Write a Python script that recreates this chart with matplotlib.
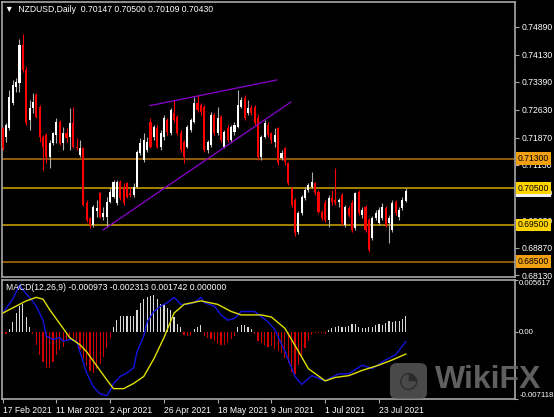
import numpy as np
import matplotlib
matplotlib.use("Agg")
import matplotlib.pyplot as plt
from matplotlib.patches import Rectangle, FancyBboxPatch

plt.rcParams['font.family'] = ['Liberation Sans', 'DejaVu Sans']

# NZDUSD daily, bar 0 = 17 Feb 2021
opens = [0.7214, 0.7189, 0.7214, 0.7282, 0.7325, 0.7336, 0.7440, 0.7371, 0.7235, 0.7268,
         0.7303, 0.7271, 0.7189, 0.7195, 0.7135, 0.7173, 0.7195, 0.7230, 0.7173, 0.7200,
         0.7189, 0.7227, 0.7162, 0.7140, 0.7159, 0.7010, 0.6969, 0.6950, 0.6988, 0.7037,
         0.6972, 0.6972, 0.7012, 0.7026, 0.7010, 0.7067, 0.7053, 0.7064, 0.7037, 0.7031,
         0.7053, 0.7146, 0.7127, 0.7154, 0.7230, 0.7189, 0.7214, 0.7162, 0.7189, 0.7235,
         0.7200, 0.7254, 0.7243, 0.7200, 0.7176, 0.7162, 0.7208, 0.7230, 0.7282, 0.7276,
         0.7271, 0.7154, 0.7167, 0.7249, 0.7200, 0.7243, 0.7162, 0.7214, 0.7181, 0.7203,
         0.7216, 0.7271, 0.7295, 0.7254, 0.7268, 0.7271, 0.7241, 0.7135, 0.7189, 0.7222,
         0.7200, 0.7176, 0.7214, 0.7132, 0.7159, 0.7118, 0.7050, 0.7018, 0.6931, 0.6982,
         0.7023, 0.7045, 0.7053, 0.7064, 0.7040, 0.6985, 0.7010, 0.6963, 0.7023, 0.7018,
         0.7012, 0.7031, 0.6950, 0.6996, 0.7010, 0.6942, 0.7040, 0.6977, 0.6999, 0.6963,
         0.6914, 0.6969, 0.6955, 0.6969, 0.6996, 0.6955, 0.6936, 0.7012, 0.6972, 0.6996,
         0.70147]
highs = [0.7216, 0.7227, 0.7317, 0.7344, 0.7350, 0.7456, 0.7469, 0.7380, 0.7290, 0.7309,
         0.7309, 0.7276, 0.7195, 0.7200, 0.7181, 0.7203, 0.7241, 0.7235, 0.7216, 0.7214,
         0.7268, 0.7271, 0.7186, 0.7181, 0.7162, 0.7018, 0.6972, 0.7004, 0.7018, 0.7040,
         0.6999, 0.7026, 0.7050, 0.7072, 0.7072, 0.7072, 0.7064, 0.7067, 0.7053, 0.7064,
         0.7154, 0.7186, 0.7200, 0.7189, 0.7241, 0.7222, 0.7222, 0.7208, 0.7249, 0.7241,
         0.7268, 0.7290, 0.7249, 0.7208, 0.7181, 0.7222, 0.7241, 0.7298, 0.7303, 0.7282,
         0.7276, 0.7181, 0.7257, 0.7254, 0.7271, 0.7249, 0.7208, 0.7222, 0.7222, 0.7230,
         0.7317, 0.7298, 0.7303, 0.7290, 0.7276, 0.7276, 0.7249, 0.7195, 0.7235, 0.7230,
         0.7203, 0.7214, 0.7216, 0.7154, 0.7162, 0.7121, 0.7053, 0.7023, 0.6988, 0.7031,
         0.7053, 0.7064, 0.7094, 0.7067, 0.7045, 0.6991, 0.7018, 0.7031, 0.7045, 0.7105,
         0.7023, 0.7037, 0.7004, 0.7001, 0.7018, 0.7040, 0.7045, 0.6999, 0.7004, 0.6969,
         0.6975, 0.6991, 0.6999, 0.7010, 0.7001, 0.6977, 0.7018, 0.7018, 0.6999, 0.7026,
         0.70500]
lows = [0.7154, 0.7176, 0.7208, 0.7276, 0.7311, 0.7311, 0.7365, 0.7222, 0.7208, 0.7254,
        0.7241, 0.7176, 0.7099, 0.7118, 0.7105, 0.7167, 0.7173, 0.7167, 0.7154, 0.7176,
        0.7154, 0.7159, 0.7154, 0.7135, 0.7001, 0.6958, 0.6942, 0.6944, 0.6972, 0.6969,
        0.6963, 0.6944, 0.7010, 0.7023, 0.7004, 0.7018, 0.7004, 0.7023, 0.7026, 0.7026,
        0.7050, 0.7140, 0.7121, 0.7148, 0.7159, 0.7181, 0.7159, 0.7154, 0.7181, 0.7195,
        0.7195, 0.7230, 0.7195, 0.7148, 0.7118, 0.7159, 0.7203, 0.7227, 0.7257, 0.7249,
        0.7148, 0.7146, 0.7162, 0.7195, 0.7195, 0.7176, 0.7159, 0.7176, 0.7176, 0.7195,
        0.7214, 0.7268, 0.7235, 0.7249, 0.7249, 0.7222, 0.7127, 0.7127, 0.7186, 0.7189,
        0.7173, 0.7162, 0.7113, 0.7127, 0.7113, 0.7059, 0.6999, 0.6920, 0.6925, 0.6977,
        0.7018, 0.7040, 0.7050, 0.7031, 0.6982, 0.6963, 0.6958, 0.6944, 0.7004, 0.7004,
        0.6999, 0.6950, 0.6944, 0.6972, 0.6931, 0.6936, 0.6977, 0.6969, 0.6931, 0.6877,
        0.6909, 0.6963, 0.6950, 0.6963, 0.6944, 0.6901, 0.6931, 0.6977, 0.6963, 0.6991,
        0.70109]
closes = [0.7159, 0.7222, 0.7298, 0.7331, 0.7339, 0.7439, 0.7371, 0.7227, 0.7268, 0.7284,
          0.7243, 0.7189, 0.7162, 0.7135, 0.7173, 0.7200, 0.7230, 0.7173, 0.7200, 0.7186,
          0.7227, 0.7162, 0.7159, 0.7159, 0.7004, 0.6963, 0.6950, 0.6999, 0.6996, 0.6972,
          0.6982, 0.7012, 0.7040, 0.7067, 0.7067, 0.7023, 0.7010, 0.7026, 0.7031, 0.7053,
          0.7148, 0.7173, 0.7181, 0.7176, 0.7162, 0.7216, 0.7162, 0.7200, 0.7241, 0.7203,
          0.7262, 0.7235, 0.7200, 0.7154, 0.7135, 0.7216, 0.7235, 0.7282, 0.7262, 0.7257,
          0.7154, 0.7176, 0.7249, 0.7200, 0.7241, 0.7181, 0.7203, 0.7181, 0.7216, 0.7222,
          0.7276, 0.7290, 0.7241, 0.7268, 0.7254, 0.7227, 0.7135, 0.7189, 0.7227, 0.7195,
          0.7181, 0.7195, 0.7118, 0.7146, 0.7121, 0.7064, 0.7004, 0.6928, 0.6982, 0.7026,
          0.7045, 0.7059, 0.7067, 0.7037, 0.6985, 0.6969, 0.6963, 0.7023, 0.7012, 0.7010,
          0.7018, 0.6955, 0.6999, 0.6977, 0.6936, 0.7037, 0.6982, 0.6991, 0.6936, 0.6882,
          0.6969, 0.6982, 0.6991, 0.6999, 0.6950, 0.6969, 0.7010, 0.6982, 0.6991, 0.7018,
          0.70430]

# MACD histogram, one value per bar
macd_hist = [-0.00019, -0.00019, 0.00038, 0.00113, 0.00207, 0.00282, 0.00301, 0.00169, 0.00056, -0.00011,
             -0.00131, -0.00244, -0.00319, -0.00376, -0.00376, -0.00319, -0.00244, -0.00188, -0.00150, -0.00094,
             -0.00056, -0.00056, -0.00113, -0.00188, -0.00282, -0.00357, -0.00413, -0.00432, -0.00394, -0.00338,
             -0.00263, -0.00169, -0.00056, 0.00056, 0.00131, 0.00177, 0.00177, 0.00177, 0.00177, 0.00177,
             0.00244, 0.00319, 0.00357, 0.00376, 0.00394, 0.00402, 0.00357, 0.00301, 0.00301, 0.00263,
             0.00244, 0.00169, 0.00094, 0.00056, -0.00026, -0.00038, -0.00026, 0.00038, 0.00056, 0.00075,
             -0.00038, -0.00056, -0.00075, -0.00094, -0.00113, -0.00131, -0.00131, -0.00113, -0.00075, -0.00038,
             0.00056, 0.00075, 0.00075, 0.00056, 0.00038, -0.00019, -0.00094, -0.00113, -0.00131, -0.00150,
             -0.00143, -0.00180, -0.00199, -0.00218, -0.00274, -0.00330, -0.00425, -0.00443, -0.00349, -0.00274,
             -0.00161, -0.00086, -0.00030, -0.00010, -0.00005, -0.00010, -0.00020, 0.00026, 0.00045, 0.00064,
             0.00071, 0.00064, 0.00056, 0.00071, 0.00094, 0.00094, 0.00064, 0.00045, 0.00045, 0.00056,
             0.00064, 0.00083, 0.00094, 0.00083, 0.00101, 0.00120, 0.00109, 0.00120, 0.00120, 0.00139,
             0.00174]

# MACD main (blue) and signal (yellow), read at selected bars
macd_idx = [0, 3, 5, 7, 8, 10, 12, 13, 15, 17, 18, 20, 22, 23, 25, 27, 29, 31, 32, 33,
            35, 37, 39, 40, 42, 43, 45, 47, 49, 51, 53, 55, 57, 59, 60, 63, 65, 67, 69, 71,
            75, 77, 79, 81, 84, 87, 89, 92, 96, 100, 103, 107, 110, 114, 117, 120]
macd_main = [0.00207, 0.00357, 0.00507, 0.00413, 0.00376, 0.00282, 0.00131, -0.00038, -0.00075, -0.00056,
             -0.00094, -0.00075, -0.00094, -0.00207, -0.00432, -0.00582, -0.00657, -0.00676, -0.00620, -0.00545,
             -0.00470, -0.00432, -0.00376, -0.00207, -0.00038, 0.00113, 0.00225, 0.00282, 0.00319, 0.00376,
             0.00301, 0.00301, 0.00319, 0.00376, 0.00319, 0.00282, 0.00188, 0.00131, 0.00150, 0.00225,
             0.00225, 0.00169, 0.00113, 0.00030, -0.00199, -0.00470, -0.00556, -0.00462, -0.00518, -0.00443,
             -0.00443, -0.00349, -0.00387, -0.00293, -0.00237, -0.00097]
sig_idx = [0, 4, 7, 10, 12, 14, 17, 20, 23, 25, 28, 31, 33, 36, 39, 42, 45, 48, 51, 54,
           59, 64, 68, 71, 77, 80, 84, 88, 91, 96, 99, 103, 107, 112, 116, 120]
macd_signal = [0.00207, 0.00282, 0.00338, 0.00376, 0.00357, 0.00244, 0.00094, -0.00056, -0.00131, -0.00207,
               -0.00357, -0.00507, -0.00601, -0.00601, -0.00545, -0.00470, -0.00282, -0.00056, 0.00207, 0.00301,
               0.00338, 0.00301, 0.00225, 0.00188, 0.00188, 0.00165, 0.00045, -0.00199, -0.00387, -0.00518,
               -0.00481, -0.00462, -0.00406, -0.00349, -0.00293, -0.00231]

levels = [0.7130, 0.7050, 0.6950, 0.6850]
level_colors = ["#b87408", "#d2a800", "#d2a800", "#b87408"]
label_colors = ["#f0a010", "#ffd400", "#ffd400", "#f0a010"]
bid_price = 0.70430

# purple trend lines (bar index, price)
upper_line = ([43.8, 81.6], [0.7274, 0.7344])
lower_line = ([29.9, 85.8], [0.6936, 0.7284])

price_ticks = [0.74890, 0.74130, 0.73390, 0.72630, 0.71870, 0.71130, 0.70390, 0.69630, 0.68870, 0.68130]
date_idx = [0, 16, 32, 48, 64, 80, 96, 112]
date_labels = ["17 Feb 2021", "11 Mar 2021", "2 Apr 2021", "26 Apr 2021",
               "18 May 2021", "9 Jun 2021", "1 Jul 2021", "23 Jul 2021"]

W, H = 554, 417
fig = plt.figure(figsize=(W / 100, H / 100), dpi=100, facecolor="black")

def box(l, t, r, b):
    return [l / W, 1 - b / H, (r - l) / W, (b - t) / H]

ax = fig.add_axes(box(2, 2, 515, 277), facecolor="black")
ax2 = fig.add_axes(box(2, 280, 515, 399), facecolor="black")

xmin, xmax = -0.2, 152.5
frame = "#a8a8a8"
fs = 6.2

# candles
bw = 0.62
for i in range(len(closes)):
    o, h, l, c = opens[i], highs[i], lows[i], closes[i]
    up = c >= o
    col = "white" if up else "#ff0000"
    wick = "#b0b0b0" if up else "#ff0000"
    ax.plot([i, i], [l, h], color=wick, lw=0.8, solid_capstyle="butt", zorder=3)
    lo = min(o, c)
    ax.add_patch(Rectangle((i - bw / 2, lo), bw, max(abs(c - o), 0.00008),
                           facecolor=col, edgecolor="none", zorder=4))

for lv, lc in zip(levels, level_colors):
    ax.axhline(lv, color=lc, lw=1.1, zorder=2)

ax.plot(*upper_line, color="#8c00d0", lw=0.9, zorder=5)
ax.plot(*lower_line, color="#8c00d0", lw=0.9, zorder=5)

ax.set_xlim(xmin, xmax)
ax.set_ylim(0.6808, 0.7556)
ax.set_xticks([])
ax.yaxis.tick_right()
ax.set_yticks(price_ticks)
ax.set_yticklabels(["%.5f" % p for p in price_ticks])
ax.tick_params(axis="y", colors=frame, length=3, width=0.8, pad=1.5, labelsize=fs, labelcolor="white")
for s in ax.spines.values():
    s.set_color(frame)
    s.set_linewidth(1.2)

# bid price tag, mostly hidden under the level tags
ax.text(1.0 + 3 / 513, bid_price, "%.5f" % bid_price, transform=ax.get_yaxis_transform(),
        ha="left", va="center", fontsize=fs, color="black", zorder=9, clip_on=False,
        bbox=dict(boxstyle="square,pad=0.2", facecolor="#f0f0f0", edgecolor="none"))
for lv, bc in zip(levels, label_colors):
    ax.text(1.0 + 3 / 513, lv, "%.5f" % lv, transform=ax.get_yaxis_transform(),
            ha="left", va="center", fontsize=fs, color="black", zorder=10, clip_on=False,
            bbox=dict(boxstyle="square,pad=0.2", facecolor=bc, edgecolor="none"))

fig.text(5 / W, 1 - 9 / H, "\u25bc  NZDUSD,Daily  0.70147 0.70500 0.70109 0.70430",
         color="white", fontsize=fs, ha="left", va="center")

# MACD panel
x = np.arange(len(macd_hist))
hist = np.array(macd_hist)
ax2.bar(x, hist, width=0.35, color=np.where(hist >= 0, "#d8d8d8", "#d00000"), zorder=2)
ax2.plot(macd_idx, macd_main, color="#1414e0", lw=1.0, zorder=3)
ax2.plot(sig_idx, macd_signal, color="#e0e000", lw=1.0, zorder=3)
ax2.set_xlim(xmin, xmax)
ax2.set_ylim(-0.007118, 0.005617)
ax2.yaxis.tick_right()
ax2.set_yticks([0.005617, 0.0, -0.007118])
ax2.set_yticklabels(["0.005617", "0.00", "-0.007118"])
for lab, va in zip(ax2.get_yticklabels(), ["top", "center", "bottom"]):
    lab.set_va(va)
    lab.set_fontsize(5.6)
ax2.tick_params(axis="y", colors=frame, length=2, width=0.8, pad=1, labelcolor="white")
ax2.set_xticks(date_idx)
ax2.set_xticklabels(date_labels)
for lab in ax2.get_xticklabels():
    lab.set_ha("left")
ax2.tick_params(axis="x", colors=frame, length=3, width=0.8, pad=2, labelsize=fs, labelcolor="white")
for s in ax2.spines.values():
    s.set_color(frame)
    s.set_linewidth(1.2)

fig.text(6 / W, 1 - 287 / H, "MACD(12,26,9) -0.000973 -0.002313 0.001742 0.000000",
         color="white", fontsize=fs, ha="left", va="center")

# WikiFX watermark
fig.patches.append(FancyBboxPatch((390 / W, 1 - 399 / H), 37 / W, 36 / H,
                                  boxstyle="round,pad=0,rounding_size=0.014",
                                  transform=fig.transFigure, facecolor="#5c5c5c",
                                  edgecolor="none", alpha=0.8, zorder=20))
fig.text(408.5 / W, 1 - 381 / H, "\u25d4", color="#2a2a2a", fontsize=16,
         ha="center", va="center", zorder=21, family=["DejaVu Sans"])
fig.text(435 / W, 1 - 380 / H, "WikiFX", color="#6a6a6a", alpha=0.9,
         fontsize=23, fontweight="bold", ha="left", va="center", zorder=21)

fig.savefig("out.png", dpi=100, facecolor="black")
